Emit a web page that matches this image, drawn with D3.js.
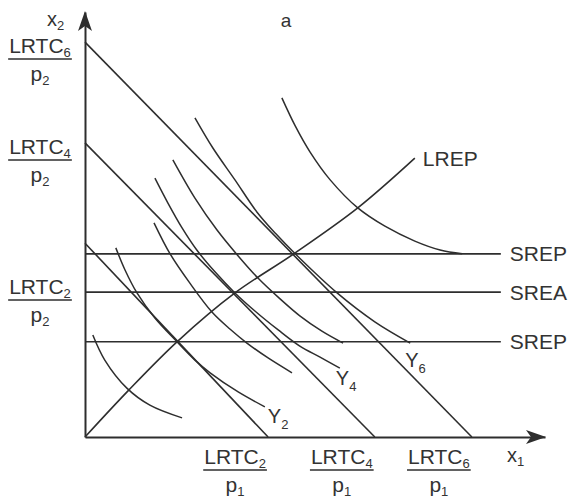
<!DOCTYPE html>
<html>
<head>
<meta charset="utf-8">
<script src="https://cdn.jsdelivr.net/npm/d3@7"></script>
<style>
  html, body { margin: 0; padding: 0; background: #fff; }
  svg { display: block; }
  text { font-family: "Liberation Sans", Arial, Helvetica, sans-serif; fill: #333; }
</style>
</head>
<body>
<svg id="chart" width="570" height="498"></svg>
<script>
// ---------- data (chart units: x1 and x2 quantities, 0..100) ----------
const costLevels = ["2", "4", "6"];               // LRTC index of each isocost line
const isocostXIntercept = [39.8, 63.0, 84.1];     // LRTC_i / p1
const isocostYIntercept = [45.6, 69.2, 92.9];     // LRTC_i / p2

const expansionNames = ["SREP", "SREA", "SREP"];  // short-run expansion paths (horizontal)
const expansionLevel = [43.1, 34.1, 22.4];
const expansionEnd = 90.4;

const lrepPath = [[0, 0], [9.3, 10.8], [20.0, 22.4], [32.6, 33.9], [45.4, 43.1], [59.3, 53.9], [71.7, 65.6]];

const isoquant1 = [[1.7, 24.0], [4.3, 18.1], [9.1, 11.5], [14.1, 7.5], [21.1, 4.5]];
const isoquant2 = [[6.7, 44.5], [8.7, 39.3], [11.3, 33.9], [15.2, 28.0], [20.0, 22.4], [23.9, 18.1], [27.2, 15.1], [33.3, 10.6], [39.1, 7.1]];
const isoquant3 = [[15.0, 50.4], [18.5, 43.1], [22.8, 36.2], [27.6, 29.4], [31.5, 25.4], [35.2, 22.1], [39.8, 18.6], [45.0, 15.1]];
const isoquant4 = [[15.2, 60.9], [18.0, 55.1], [21.1, 49.2], [24.3, 44.0], [28.3, 38.8], [32.6, 33.9], [37.0, 29.6], [42.0, 25.2], [46.7, 21.4], [51.1, 18.8], [55.4, 16.2]];
const isoquant5 = [[19.1, 65.2], [23.9, 56.2], [28.7, 48.7], [33.3, 42.6], [37.6, 37.4], [42.4, 32.5], [46.7, 28.5], [51.5, 24.9], [56.1, 22.1]];
const isoquant6 = [[23.9, 75.1], [27.8, 68.0], [32.6, 60.5], [37.4, 52.9], [41.5, 47.8], [45.7, 43.1], [54.8, 33.9], [63.0, 27.1], [70.7, 22.1]];
const isoquant7 = [[42.8, 79.8], [45.7, 73.2], [48.9, 67.1], [53.3, 60.5], [59.3, 53.9], [65.2, 49.6], [71.7, 46.1], [77.2, 44.0], [82.0, 43.1]];

const isoquants = [isoquant1, isoquant2, isoquant3, isoquant4, isoquant5, isoquant6, isoquant7];
const isoquantLabels = [null, "2", null, "4", null, "6", null];   // Y_i labels shown

// ---------- drawing ----------
const svg = d3.select("#chart");
const x = d3.scaleLinear().domain([0, 100]).range([85, 545]);
const y = d3.scaleLinear().domain([0, 100]).range([437, 12]);

const ink = "#2e2e2e";
const g = svg.append("g");

// axes (no ticks) via d3-axis
const xAxis = g.append("g").attr("transform", `translate(0,${y(0)})`)
  .call(d3.axisBottom(x).tickValues([]).tickSizeOuter(0));
const yAxis = g.append("g").attr("transform", `translate(${x(0)},0)`)
  .call(d3.axisLeft(y).tickValues([]).tickSizeOuter(0));
[xAxis, yAxis].forEach(a => a.select(".domain").attr("stroke", ink).attr("stroke-width", 2));

// arrowheads
const tipX = x(100) + 1, tipY = y(100) - 1;
g.append("path")
  .attr("d", `M${tipX},${y(0)} L${tipX - 20},${y(0) - 7} L${tipX - 15},${y(0)} L${tipX - 20},${y(0) + 7} Z`)
  .attr("fill", ink);
g.append("path")
  .attr("d", `M${x(0)},${tipY} L${x(0) - 7},${tipY + 20} L${x(0)},${tipY + 15} L${x(0) + 7},${tipY + 20} Z`)
  .attr("fill", ink);

// isocost lines
costLevels.forEach((c, i) => {
  g.append("line")
    .attr("x1", x(0)).attr("y1", y(isocostYIntercept[i]))
    .attr("x2", x(isocostXIntercept[i])).attr("y2", y(0))
    .attr("stroke", ink).attr("stroke-width", 1.6);
});

// short-run expansion paths
expansionNames.forEach((n, i) => {
  g.append("line")
    .attr("x1", x(0)).attr("y1", y(expansionLevel[i]))
    .attr("x2", x(expansionEnd)).attr("y2", y(expansionLevel[i]))
    .attr("stroke", ink).attr("stroke-width", 1.6);
  g.append("text")
    .attr("x", x(expansionEnd) + 9).attr("y", y(expansionLevel[i]) + 7.5)
    .attr("font-size", 21).text(n);
});

const line = d3.line().x(d => x(d[0])).y(d => y(d[1])).curve(d3.curveCatmullRom.alpha(0.5));

// long-run expansion path
g.append("path").attr("d", line(lrepPath)).attr("fill", "none")
  .attr("stroke", ink).attr("stroke-width", 1.6);
const lrepEnd = lrepPath[lrepPath.length - 1];
g.append("text").attr("x", x(lrepEnd[0]) + 8).attr("y", y(lrepEnd[1]) + 8)
  .attr("font-size", 21).text("LREP");

// isoquants
isoquants.forEach((pts) => {
  g.append("path").attr("d", line(pts)).attr("fill", "none")
    .attr("stroke", ink).attr("stroke-width", 1.5);
});

// Y labels
const yLabelOffsets = { "2": [3, 16], "4": [-4, 17], "6": [-5, 24] };
isoquants.forEach((pts, i) => {
  const lab = isoquantLabels[i];
  if (!lab) return;
  const end = pts[pts.length - 1];
  const off = yLabelOffsets[lab];
  const t = g.append("text").attr("x", x(end[0]) + off[0]).attr("y", y(end[1]) + off[1])
    .attr("font-size", 20);
  t.append("tspan").text("Y");
  t.append("tspan").attr("font-size", 13).attr("dy", 6).text(lab);
});

// fraction labels
function fraction(cx, barY, num, numSub, den, denSub) {
  const top = g.append("text").attr("x", cx).attr("y", barY - 6)
    .attr("text-anchor", "middle").attr("font-size", 21);
  top.append("tspan").text(num);
  top.append("tspan").attr("font-size", 13).attr("dy", 4).text(numSub);
  const w = top.node().getBBox().width;
  g.append("line").attr("x1", cx - w / 2 - 1).attr("x2", cx + w / 2 + 1)
    .attr("y1", barY).attr("y2", barY).attr("stroke", ink).attr("stroke-width", 1.6);
  const bot = g.append("text").attr("x", cx).attr("y", barY + 22)
    .attr("text-anchor", "middle").attr("font-size", 21);
  bot.append("tspan").text(den);
  bot.append("tspan").attr("font-size", 13).attr("dy", 4).text(denSub);
}

// y-axis side: LRTC / p2
const leftBarY = [300, 160, 59];
costLevels.forEach((c, i) => fraction(40, leftBarY[i], "LRTC", c, "p", "2"));
// x-axis side: LRTC / p1
costLevels.forEach((c, i) => fraction(x(isocostXIntercept[i]) - 33, 470, "LRTC", c, "p", "1"));

// axis titles
const x2t = g.append("text").attr("x", 47).attr("y", 26).attr("font-size", 20);
x2t.append("tspan").text("x");
x2t.append("tspan").attr("font-size", 13).attr("dy", 4).text("2");
const x1t = g.append("text").attr("x", 507).attr("y", 462).attr("font-size", 20);
x1t.append("tspan").text("x");
x1t.append("tspan").attr("font-size", 13).attr("dy", 4).text("1");

// panel letter
g.append("text").attr("x", 286).attr("y", 27).attr("text-anchor", "middle")
  .attr("font-size", 19).text("a");
</script>
</body>
</html>
